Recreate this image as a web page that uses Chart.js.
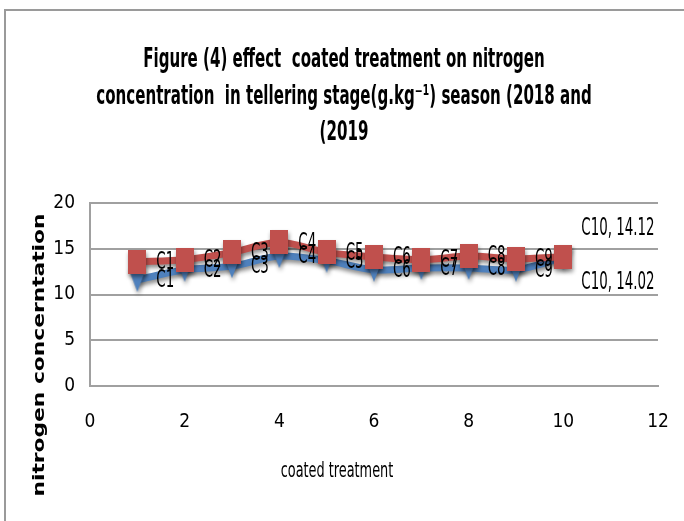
<!DOCTYPE html>
<html>
<head>
<meta charset="utf-8">
<script src="https://cdn.jsdelivr.net/npm/chart.js@4/dist/chart.umd.min.js"></script>
<style>
  html, body { margin: 0; padding: 0; background: #ffffff; }
  #wrap { position: relative; width: 684px; height: 521px; overflow: hidden; }
  #frame { position: absolute; left: 4px; top: 9px; width: 700px; height: 600px;
           border-top: 2px solid #9a9a9a; border-left: 2px solid #9a9a9a; box-sizing: border-box; }
  canvas { position: absolute; left: 0; top: 0; }
</style>
</head>
<body>
<div id="wrap">
  <div id="frame"></div>
  <canvas id="c" width="684" height="521"></canvas>
</div>
<script>
// ---- data ----
const categories = ['C1','C2','C3','C4','C5','C6','C7','C8','C9','C10'];
const xPositions = [1, 2, 3, 4, 5, 6, 7, 8, 9, 10];
const season2018 = [11.6, 12.7, 13.1, 14.2, 13.7, 12.7, 12.9, 12.9, 12.7, 14.02];
const season2019 = [13.6, 13.8, 14.6, 15.7, 14.6, 14.1, 13.8, 14.2, 13.9, 14.12];
const xTicks = [0, 2, 4, 6, 8, 10, 12];
const yTicks = [0, 5, 10, 15, 20];
const titleLines = [
  'Figure (4) effect  coated treatment on nitrogen',
  'concentration  in tellering stage(g.kg\u207B\u00B9) season (2018 and',
  '(2019'
];
const xTitle = 'coated treatment';
const yTitle = 'nitrogen concerntation';

const NARROW = "'DejaVu Sans Condensed', 'Liberation Sans Narrow', sans-serif";

function toPoints(vals) { return vals.map((v, i) => ({ x: xPositions[i], y: v })); }

// marker images
function makeRect() {
  const c = document.createElement('canvas'); c.width = 18; c.height = 24;
  const g = c.getContext('2d'); g.fillStyle = '#C0504D'; g.fillRect(0, 0, 18, 24); return c;
}
function makeTri() {
  const c = document.createElement('canvas'); c.width = 18; c.height = 24;
  const g = c.getContext('2d'); g.fillStyle = '#4F81BD';
  g.beginPath(); g.moveTo(0, 0); g.lineTo(18, 0); g.lineTo(9, 24); g.closePath(); g.fill(); return c;
}

// draw text squeezed horizontally (narrow, tall glyphs like the reference)
function drawNarrow(ctx, text, x, y, font, sx, align) {
  ctx.save();
  ctx.font = font;
  ctx.textAlign = align;
  ctx.translate(x, y);
  ctx.scale(sx, 1);
  ctx.fillText(text, 0, 0);
  ctx.restore();
}

const shadowPlugin = {
  id: 'shadow',
  beforeDatasetDraw(chart) {
    const ctx = chart.ctx; ctx.save();
    ctx.shadowColor = 'rgba(0,0,0,0.45)'; ctx.shadowBlur = 4; ctx.shadowOffsetX = 1; ctx.shadowOffsetY = 3;
  },
  afterDatasetDraw(chart) { chart.ctx.restore(); }
};

const textPlugin = {
  id: 'texts',
  afterDatasetsDraw(chart) {
    const ctx = chart.ctx;
    ctx.save();
    ctx.fillStyle = '#000';
    ctx.textBaseline = 'middle';
    const f = '24px ' + NARROW;
    chart.data.datasets.forEach((ds, di) => {
      const meta = chart.getDatasetMeta(di);
      meta.data.forEach((pt, i) => {
        if (i < categories.length - 1) {
          drawNarrow(ctx, categories[i], pt.x + 19, pt.y + 1, f, 0.62, 'left');
        } else {
          const dy = di === 1 ? -28 : 25;
          drawNarrow(ctx, categories[i] + ', ' + ds.data[i].y, pt.x + 18, pt.y + dy, f, 0.62, 'left');
        }
      });
    });
    ctx.restore();
  },
  afterDraw(chart) {
    const ctx = chart.ctx;
    ctx.save();
    ctx.fillStyle = '#000';
    ctx.textBaseline = 'middle';
    // chart title
    const ys = [60, 97, 133];
    titleLines.forEach((t, i) => drawNarrow(ctx, t, 344, ys[i], 'bold 27px ' + NARROW, 0.62, 'center'));
    // x title
    drawNarrow(ctx, xTitle, 337, 471, '22px ' + NARROW, 0.65, 'center');
    // y title (rotated, stretched along its length)
    ctx.translate(40, 355);
    ctx.rotate(-Math.PI / 2);
    ctx.scale(1.36, 1);
    ctx.textAlign = 'center';
    ctx.font = 'bold 16px "DejaVu Sans", Verdana, sans-serif';
    ctx.fillText(yTitle, 0, 0);
    ctx.restore();
  }
};

new Chart(document.getElementById('c'), {
  type: 'line',
  data: {
    datasets: [
      {
        label: '2018', data: toPoints(season2018), order: 2,
        borderColor: '#4F81BD', backgroundColor: '#4F81BD', borderWidth: 7,
        pointStyle: makeTri(), tension: 0.3, fill: false
      },
      {
        label: '2019', data: toPoints(season2019), order: 1,
        borderColor: '#C0504D', backgroundColor: '#C0504D', borderWidth: 7,
        pointStyle: makeRect(), tension: 0.3, fill: false
      }
    ]
  },
  options: {
    responsive: false,
    animation: false,
    devicePixelRatio: 1,
    layout: { padding: { top: 203, right: 26, left: 0, bottom: 0 } },
    plugins: { legend: { display: false }, title: { display: false }, tooltip: { enabled: false } },
    scales: {
      x: {
        type: 'linear', min: 0, max: 12,
        afterBuildTicks(s) { s.ticks = xTicks.map(v => ({ value: v })); },
        afterFit(s) { s.height = 135; },
        grid: { display: true, drawOnChartArea: false, drawTicks: true, tickLength: 22, tickColor: 'rgba(0,0,0,0)' },
        border: { display: true, color: '#a0a0a0', width: 2 },
        ticks: { padding: 3, color: '#000', font: { family: NARROW, size: 19 }, maxRotation: 0 }
      },
      y: {
        min: 0, max: 20,
        afterBuildTicks(s) { s.ticks = yTicks.map(v => ({ value: v })); },
        afterFit(s) { s.width = 90; },
        grid: { color: '#a0a0a0', lineWidth: 2, drawTicks: false },
        border: { display: true, color: '#a0a0a0', width: 2 },
        ticks: { padding: 15, color: '#000', font: { family: NARROW, size: 19 } }
      }
    }
  },
  plugins: [shadowPlugin, textPlugin]
});
</script>
</body>
</html>
